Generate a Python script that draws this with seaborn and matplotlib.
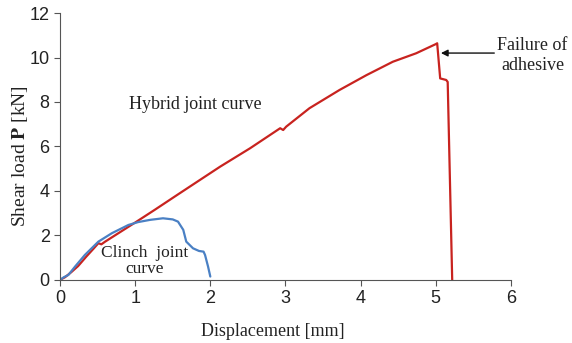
import matplotlib
matplotlib.use("Agg")
import matplotlib.pyplot as plt
import seaborn as sns
import pandas as pd

hybrid_x = [0, 0.066, 0.15, 0.24, 0.35, 0.45, 0.51, 0.55, 0.6, 0.8, 1.0, 1.26, 1.55, 1.86, 2.13,
            2.53, 2.93, 2.97, 3.01, 3.32, 3.72, 4.08, 4.43, 4.74, 5.0, 5.02, 5.06, 5.14, 5.16, 5.22]
hybrid_y = [0, 0.12, 0.35, 0.62, 1.05, 1.42, 1.65, 1.6, 1.72, 2.15, 2.58, 3.15, 3.8, 4.49, 5.09,
            5.92, 6.82, 6.74, 6.89, 7.72, 8.54, 9.21, 9.81, 10.19, 10.6, 10.64, 9.06, 8.99, 8.9, 0]
clinch_x = [0, 0.05, 0.11, 0.2, 0.33, 0.51, 0.69, 0.91, 1.04, 1.2, 1.37, 1.5, 1.57, 1.64, 1.68,
            1.77, 1.85, 1.91, 1.93, 1.97, 2.0]
clinch_y = [0, 0.12, 0.22, 0.6, 1.12, 1.72, 2.1, 2.47, 2.6, 2.7, 2.77, 2.72, 2.62, 2.25, 1.72,
            1.42, 1.3, 1.27, 1.12, 0.6, 0.15]
x_ticks = [0, 1, 2, 3, 4, 5, 6]
y_ticks = [0, 2, 4, 6, 8, 10, 12]

sns.set_style("ticks")
plt.rcParams["font.family"] = ["Liberation Sans", "DejaVu Sans"]
plt.rcParams["mathtext.fontset"] = "stix"

fig = plt.figure(figsize=(5.72, 3.43), dpi=100)
ax = fig.add_axes([0.105, 0.184, 0.788, 0.778])

df_h = pd.DataFrame({"x": hybrid_x, "y": hybrid_y})
df_c = pd.DataFrame({"x": clinch_x, "y": clinch_y})
sns.lineplot(data=df_h, x="x", y="y", sort=False, estimator=None, color="#c8231f", lw=1.6, ax=ax)
sns.lineplot(data=df_c, x="x", y="y", sort=False, estimator=None, color="#4a80c4", lw=1.6, ax=ax)

ax.set_xlim(0, 6)
ax.set_ylim(0, 12)
ax.set_xticks(x_ticks)
ax.set_yticks(y_ticks)
ax.tick_params(labelsize=13, colors="#222222", length=4, color="#555555")
for s in ["left", "bottom"]:
    ax.spines[s].set_color("#555555")
sns.despine(ax=ax)

serif = ["Liberation Serif", "DejaVu Serif"]
ax.set_xlabel("Displacement [mm]", family=serif, fontsize=13, color="#222222")
ax.set_ylabel(r"Shear load $\mathbf{P}$ [kN]", family=serif, fontsize=14, color="#222222")
ax.xaxis.set_label_coords(0.471, -0.162)
ax.yaxis.set_label_coords(-0.066, 0.4625)

ax.text(1.8, 7.9, "Hybrid joint curve", family=serif, fontsize=13, ha="center", va="center", color="#222222")
ax.text(1.13, 0.85, "Clinch  joint\ncurve", family=serif, fontsize=12.5, ha="center", va="center",
        color="#222222", linespacing=1.05)
ax.text(6.29, 10.1, "Failure of\nadhesive", family=serif, fontsize=13, ha="center", va="center",
        color="#222222", clip_on=False, linespacing=1.25)
ax.annotate("", xy=(5.07, 10.2), xytext=(5.78, 10.2), annotation_clip=False,
            arrowprops=dict(arrowstyle="-|>", color="#111111", lw=1, shrinkA=0, shrinkB=0,
                            mutation_scale=10))

fig.savefig("out.png", dpi=100)
